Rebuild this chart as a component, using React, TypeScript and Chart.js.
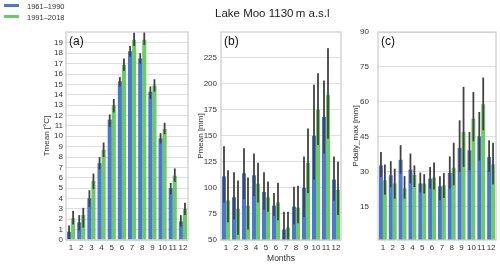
import React, { useEffect, useRef } from "react";
import { Chart, registerables } from "chart.js";
Chart.register(...registerables);

const months = ["1", "2", "3", "4", "5", "6", "7", "8", "9", "10", "11", "12"];
const periods = ["1961–1990", "1991–2018"];

// (a) Tmean
const tmeanOld = [0.8, 1.7, 4.0, 7.4, 11.6, 15.3, 18.2, 17.5, 14.3, 9.8, 5.0, 1.8];
const tmeanOldLo = [0.1, 0.9, 3.2, 6.8, 10.9, 14.8, 17.7, 17.0, 13.6, 9.3, 4.4, 1.3];
const tmeanOldHi = [1.4, 2.4, 4.8, 8.0, 12.1, 15.7, 18.7, 18.0, 14.8, 10.3, 5.5, 2.4];
const tmeanNew = [2.1, 2.4, 5.7, 8.7, 13.0, 16.9, 19.3, 19.3, 14.9, 10.7, 6.2, 3.0];
const tmeanNewLo = [1.5, 1.2, 4.9, 8.0, 12.3, 16.3, 18.7, 18.8, 14.3, 10.2, 5.6, 2.4];
const tmeanNewHi = [2.8, 3.1, 6.4, 9.4, 13.6, 17.5, 20.0, 20.1, 15.5, 11.3, 6.9, 3.6];
const tmeanTicks = [0, 1, 2, 3, 4, 5, 6, 7, 8, 9, 10, 11, 12, 13, 14, 15, 16, 17, 18, 19];

// (b) Pmean
const pmeanOld = [111, 91, 114, 112, 96, 83, 60, 82, 100, 150, 168, 108];
const pmeanOldLo = [86, 70, 89, 92, 79, 73, 50, 65, 72, 108, 133, 88];
const pmeanOldHi = [140, 115, 138, 133, 115, 95, 77, 101, 130, 199, 203, 130];
const pmeanNew = [88, 80, 83, 104, 91, 86, 62, 81, 124, 175, 189, 98];
const pmeanNewLo = [67, 55, 60, 86, 77, 69, 50, 66, 95, 141, 147, 74];
const pmeanNewHi = [117, 107, 110, 124, 106, 105, 77, 102, 157, 210, 234, 125];
const pmeanTicks = [50, 75, 100, 125, 150, 175, 200, 225];

// (c) Pdaily_max
const pmaxOld = [32.6, 28.3, 35.0, 30.8, 24.8, 26.9, 23.6, 29.4, 40.1, 39.1, 45.1, 36.2];
const pmaxOldLo = [27.6, 23.3, 29.0, 24.8, 21.0, 22.6, 17.6, 22.6, 29.8, 30.5, 34.8, 29.8];
const pmaxOldHi = [38.4, 34.4, 41.3, 37.7, 29.5, 31.9, 27.9, 36.5, 52.0, 47.0, 55.6, 43.4];
const pmaxNew = [26.2, 24.8, 22.7, 28.5, 24.8, 27.3, 24.0, 31.6, 47.0, 52.7, 58.9, 33.1];
const pmaxNewLo = [20.0, 18.3, 18.3, 23.3, 20.5, 22.2, 18.6, 24.0, 32.0, 43.0, 47.7, 24.5];
const pmaxNewHi = [33.0, 31.2, 28.0, 32.6, 28.8, 33.9, 29.3, 42.3, 66.4, 64.2, 70.4, 42.3];
const pmaxTicks = [15, 30, 45, 60, 75, 90];

const BLUE = "#4878CF";
const GREEN = "#6ACC65";
const FONT = '"Liberation Sans", Arial, Helvetica, sans-serif';
const TEXT = "#333333";

const errorBars = {
  id: "errorBars",
  afterDatasetsDraw(chart: any) {
    const { ctx, chartArea } = chart;
    const y = chart.scales.y;
    ctx.save();
    ctx.beginPath();
    ctx.rect(chartArea.left, chartArea.top, chartArea.right - chartArea.left, chartArea.bottom - chartArea.top);
    ctx.clip();
    ctx.strokeStyle = "#424242";
    ctx.lineWidth = 1.8;
    chart.data.datasets.forEach((ds: any, i: number) => {
      const meta = chart.getDatasetMeta(i);
      meta.data.forEach((el: any, j: number) => {
        ctx.beginPath();
        ctx.moveTo(el.x, y.getPixelForValue(ds.errLow[j]));
        ctx.lineTo(el.x, y.getPixelForValue(ds.errHigh[j]));
        ctx.stroke();
      });
    });
    ctx.restore();
  },
};

const frame = {
  id: "frame",
  afterDatasetsDraw(chart: any) {
    const { ctx, chartArea } = chart;
    ctx.save();
    ctx.strokeStyle = "#cccccc";
    ctx.lineWidth = 1.25;
    ctx.strokeRect(chartArea.left, chartArea.top, chartArea.right - chartArea.left, chartArea.bottom - chartArea.top);
    ctx.restore();
  },
};

const panelLabel = {
  id: "panelLabel",
  afterDraw(chart: any, _args: any, opts: any) {
    const { ctx, chartArea } = chart;
    ctx.save();
    ctx.font = `12px ${FONT}`;
    ctx.fillStyle = "#111111";
    ctx.textAlign = "left";
    ctx.textBaseline = "middle";
    ctx.fillText(opts.text, chartArea.left + 3, chartArea.top + 10);
    ctx.restore();
  },
};

type Panel = {
  letter: string;
  yTitle: string;
  xTitle?: string;
  old: number[]; oldLo: number[]; oldHi: number[];
  nw: number[]; nwLo: number[]; nwHi: number[];
  ticks: number[];
  min: number; max: number;
  padLeft: number; padRight: number; yw: number; tickPad: number;
};

const panels: Panel[] = [
  { letter: "(a)", yTitle: "Tmean [°C]", old: tmeanOld, oldLo: tmeanOldLo, oldHi: tmeanOldHi, nw: tmeanNew, nwLo: tmeanNewLo, nwHi: tmeanNewHi, ticks: tmeanTicks, min: 0, max: 20.05, padLeft: 42, padRight: 312, yw: 24, tickPad: 3 },
  { letter: "(b)", yTitle: "Pmean [mm]", xTitle: "Months", old: pmeanOld, oldLo: pmeanOldLo, oldHi: pmeanOldHi, nw: pmeanNew, nwLo: pmeanNewLo, nwHi: pmeanNewHi, ticks: pmeanTicks, min: 50, max: 249.5, padLeft: 196, padRight: 159, yw: 25, tickPad: 4 },
  { letter: "(c)", yTitle: "Pdaily_max [mm]", old: pmaxOld, oldLo: pmaxOldLo, oldHi: pmaxOldHi, nw: pmaxNew, nwLo: pmaxNewLo, nwHi: pmaxNewHi, ticks: pmaxTicks, min: 0.5, max: 90, padLeft: 351, padRight: 4, yw: 27, tickPad: 9 },
];

function makeConfig(p: Panel): any {
  const tickFont = { family: FONT, size: 8 };
  return {
    type: "bar",
    data: {
      labels: months,
      datasets: [
        { label: periods[0], data: p.old, errLow: p.oldLo, errHigh: p.oldHi, backgroundColor: BLUE, borderWidth: 0, categoryPercentage: 0.8, barPercentage: 1.0 },
        { label: periods[1], data: p.nw, errLow: p.nwLo, errHigh: p.nwHi, backgroundColor: GREEN, borderWidth: 0, categoryPercentage: 0.8, barPercentage: 1.0 },
      ],
    },
    options: {
      animation: false,
      responsive: false,
      maintainAspectRatio: false,
      events: [],
      layout: { padding: { left: p.padLeft, right: p.padRight, top: 32, bottom: 2 } },
      plugins: { legend: { display: false }, tooltip: { enabled: false }, panelLabel: { text: p.letter } },
      scales: {
        x: {
          grid: { display: false, drawTicks: false },
          border: { display: false },
          ticks: { font: tickFont, color: TEXT, padding: 3, maxRotation: 0, autoSkip: false },
          title: p.xTitle
            ? { display: true, text: p.xTitle, font: { family: FONT, size: 8.5 }, color: TEXT, padding: { top: 0, bottom: 0 } }
            : { display: false },
          afterFit: (s: any) => { s.height = 24; },
        },
        y: {
          min: p.min,
          max: p.max,
          grid: { color: "#dedede", lineWidth: 1, drawTicks: false },
          border: { display: false },
          ticks: { font: tickFont, color: TEXT, padding: p.tickPad, autoSkip: false },
          afterBuildTicks: (s: any) => { s.ticks = p.ticks.map((v) => ({ value: v })); },
          afterFit: (s: any) => { s.width = p.yw; },
          title: { display: true, text: p.yTitle, font: { family: FONT, size: 8 }, color: TEXT, padding: { top: 0, bottom: 0 } },
        },
      },
    },
    plugins: [errorBars, frame, panelLabel],
  };
}

export default function App() {
  const r0 = useRef<HTMLCanvasElement>(null);
  const r1 = useRef<HTMLCanvasElement>(null);
  const r2 = useRef<HTMLCanvasElement>(null);

  useEffect(() => {
    document.body.style.margin = "0";
    const refs = [r0, r1, r2];
    const charts = refs.map((r, i) => new Chart(r.current as HTMLCanvasElement, makeConfig(panels[i])));
    return () => charts.forEach((c) => c.destroy());
  }, []);

  const cv: React.CSSProperties = { position: "absolute", left: 0, top: 0, width: 500, height: 266 };
  return (
    <div style={{ position: "fixed", left: 0, top: 0, width: 500, height: 266, background: "#fff", fontFamily: FONT, overflow: "hidden" }}>
      <canvas ref={r0} width={500} height={266} style={cv} />
      <canvas ref={r1} width={500} height={266} style={cv} />
      <canvas ref={r2} width={500} height={266} style={cv} />
      <div style={{ position: "absolute", left: 215, top: 5, fontSize: 11.5, lineHeight: "16px", color: "#222", whiteSpace: "nowrap" }}>
        Lake Moo 1130{"\u2009"}m a.s.l
      </div>
      <div style={{ position: "absolute", left: 4, top: 4.3, width: 15, height: 3, background: BLUE }} />
      <div style={{ position: "absolute", left: 4, top: 14.5, width: 15, height: 3, background: GREEN }} />
      <div style={{ position: "absolute", left: 27, top: 1.5, fontSize: 7.5, lineHeight: "10px", color: TEXT, whiteSpace: "nowrap" }}>{periods[0]}</div>
      <div style={{ position: "absolute", left: 27, top: 12.8, fontSize: 7.5, lineHeight: "10px", color: TEXT, whiteSpace: "nowrap" }}>{periods[1]}</div>
    </div>
  );
}
